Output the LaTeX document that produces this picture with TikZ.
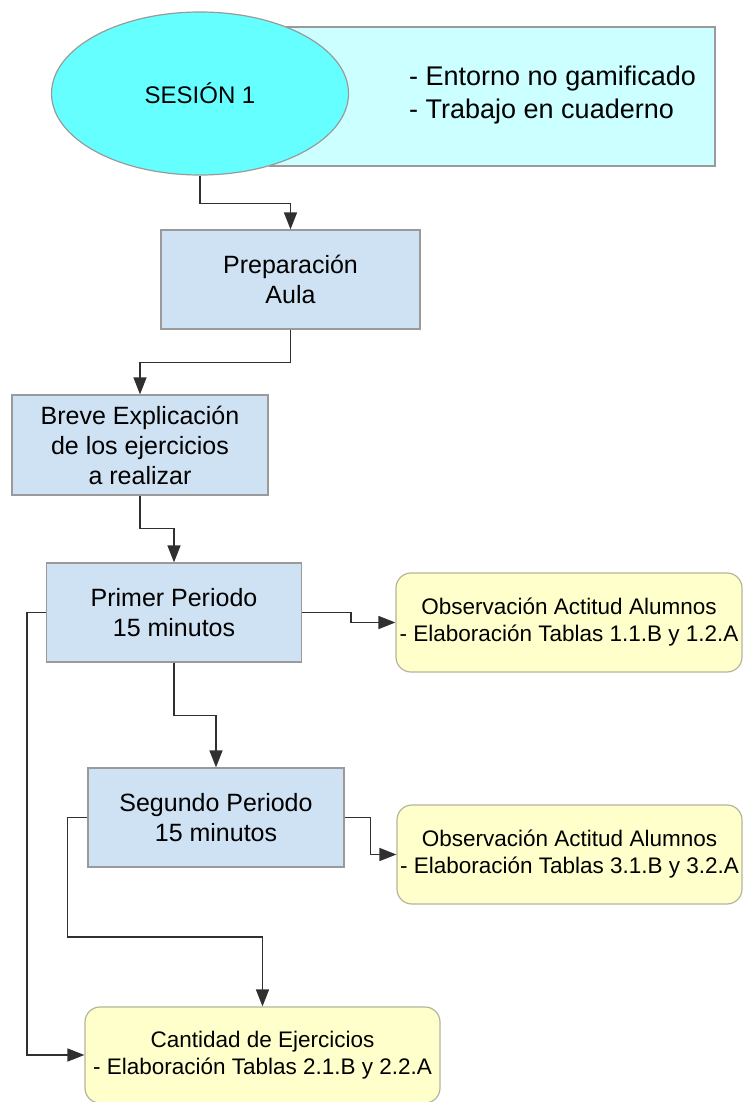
\documentclass[tikz,border=0pt]{standalone}
\usepackage{fontspec}
\setmainfont{Liberation Sans}
\usetikzlibrary{shapes.geometric,arrows.meta}
\definecolor{ellfill}{HTML}{66FFFF}
\definecolor{infofill}{HTML}{CCFFFF}
\definecolor{bluefill}{HTML}{CFE2F3}
\definecolor{yelfill}{HTML}{FFFFCC}
\definecolor{edgegray}{HTML}{9A9A9A}
\definecolor{yeledge}{HTML}{B4B49A}
\definecolor{linegray}{HTML}{303030}
\tikzset{
  bluebox/.style={rectangle, draw=edgegray, fill=bluefill, line width=1.2pt, inner sep=0pt,
    align=center, font=\fontsize{25}{30}\selectfont},
  yelbox/.style={rectangle, rounded corners=15pt, draw=yeledge, fill=yelfill, line width=1.2pt, inner sep=0pt,
    align=center, font=\fontsize{22.5}{27}\selectfont},
  conn/.style={draw=linegray, line width=1.5pt, -{Triangle[length=17pt,width=13pt]}},
}
\begin{document}
\begin{tikzpicture}[x=1pt,y=-1pt]
\useasboundingbox (0,0) rectangle (743,1102);
% header
\node[rectangle, draw=edgegray, fill=infofill, line width=1.2pt, minimum width=445pt, minimum height=139pt, inner sep=0pt] (info) at (492.5,96.5) {};
\node[anchor=west, align=left, font=\fontsize{27}{33}\selectfont, inner sep=0pt] (infotext) at (409,95) {- Entorno no gamificado\\- Trabajo en cuaderno};
\node[ellipse, draw=edgegray, fill=ellfill, line width=1.2pt, minimum width=297pt, minimum height=163pt, inner sep=0pt, font=\fontsize{24}{29}\selectfont] (ell) at (200,93.5) {SESIÓN 1};
% boxes
\node[bluebox, minimum width=259pt, minimum height=99pt] (prep) at (290.5,279.5) {Preparación\\Aula};
\node[bluebox, minimum width=256pt, minimum height=100pt] (breve) at (140,445) {Breve Explicación\\de los ejercicios\\a realizar};
\node[bluebox, minimum width=255pt, minimum height=99pt] (primer) at (174,612.5) {Primer Periodo\\15 minutos};
\node[bluebox, minimum width=256pt, minimum height=99pt] (segundo) at (216,817.5) {Segundo Periodo\\15 minutos};
\node[yelbox, minimum width=346pt, minimum height=99pt] (obs1) at (569,622.5) {Observación Actitud Alumnos\\- Elaboración Tablas 1.1.B y 1.2.A};
\node[yelbox, minimum width=345pt, minimum height=99pt] (obs2) at (569.5,854.5) {Observación Actitud Alumnos\\- Elaboración Tablas 3.1.B y 3.2.A};
\node[yelbox, minimum width=355pt, minimum height=96pt] (cant) at (262.5,1055) {Cantidad de Ejercicios\\- Elaboración Tablas 2.1.B y 2.2.A};
% connectors
\draw[conn] (ell.south) -- ++(0,28) -| (prep.north);
\draw[conn] (prep.south) -- ++(0,33) -| (breve.north);
\draw[conn] (breve.south) -- ++(0,33) -| (primer.north);
\draw[conn] (primer.east) -- ++(49,0) |- (obs1.west);
\draw[conn] (primer.south) -- ++(0,53) -| (segundo.north);
\draw[conn] (segundo.east) -- ++(26,0) |- (obs2.west);
\draw[conn] (segundo.west) -- ++(-20,0) -- ++(0,119.5) -| (cant.north);
\draw[conn] (primer.west) -- ++(-19,0) |- (cant.west);
\end{tikzpicture}
\end{document}
